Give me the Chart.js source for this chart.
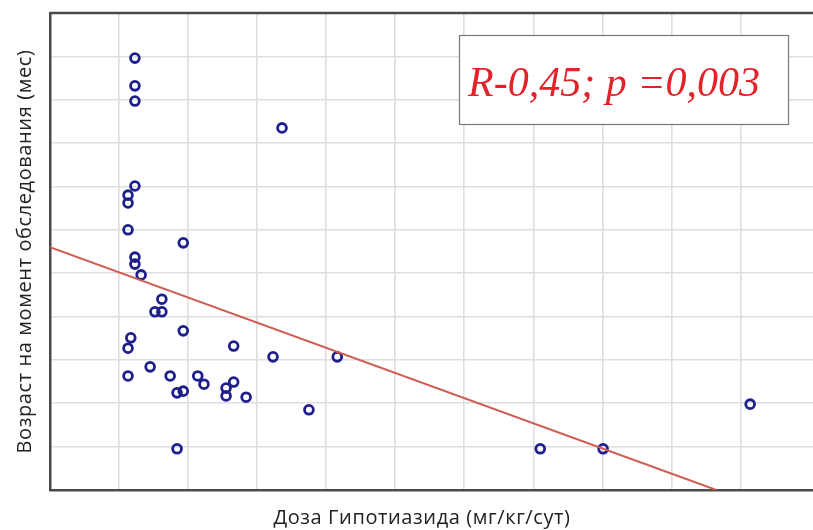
<!DOCTYPE html>
<html>
<head>
<meta charset="utf-8">
<script src="https://cdn.jsdelivr.net/npm/chart.js@4/dist/chart.umd.min.js"></script>
<style>
  html, body { margin: 0; padding: 0; background: #ffffff; }
  #wrap { width: 813px; height: 530px; position: relative; }
</style>
</head>
<body>
<div id="wrap"><canvas id="c" width="813" height="530"></canvas></div>
<script>
// Dose of hydrochlorothiazide (grid units) and age at examination (grid units)
const doseX = [1.23, 1.23, 1.23, 3.36, 1.23, 1.13, 1.13, 1.13, 1.93, 1.23,
               1.23, 1.32, 1.62, 1.52, 1.62, 1.17, 1.13, 1.93, 2.66, 3.23,
               4.16, 1.13, 1.45, 1.74, 1.84, 1.93, 2.14, 2.23, 2.55, 2.55,
               2.66, 2.84, 3.75, 1.84, 7.10, 8.01, 10.14];
const ageY  = [9.96, 9.32, 8.97, 8.35, 7.01, 6.80, 6.62, 6.00, 5.70, 5.37,
               5.21, 4.96, 4.40, 4.11, 4.11, 3.51, 3.27, 3.67, 3.32, 3.07,
               3.07, 2.63, 2.84, 2.63, 2.24, 2.28, 2.63, 2.44, 2.35, 2.17,
               2.49, 2.14, 1.85, 0.95, 0.95, 0.95, 1.98];

// Linear fit: end points of the regression line
const fitX = [0, 9.65];
const fitY = [5.60, 0];

const statText = 'R-0,45; p =0,003';
const xTitle = 'Доза Гипотиазида (мг/кг/сут)';
const yTitle = 'Возраст на момент обследования (мес)';

const points = doseX.map((x, i) => ({ x: x, y: ageY[i] }));
const fitLine = fitX.map((x, i) => ({ x: x, y: fitY[i] }));

const labelFont = '20px "Open Sans", sans-serif';

const frameAndBox = {
  id: 'frameAndBox',
  afterDraw(chart) {
    const ctx = chart.ctx;
    const a = chart.chartArea;
    ctx.save();
    // top frame line
    ctx.strokeStyle = '#4a4a4a';
    ctx.lineWidth = 2.5;
    ctx.beginPath();
    ctx.moveTo(a.left, a.top);
    ctx.lineTo(a.right, a.top);
    ctx.stroke();

    // axis titles
    ctx.fillStyle = '#222222';
    ctx.font = labelFont;
    ctx.letterSpacing = '0.6px';
    ctx.textAlign = 'center';
    ctx.textBaseline = 'alphabetic';
    ctx.fillText(xTitle, a.left + 372, 524);
    ctx.save();
    ctx.translate(31, (a.top + a.bottom) / 2);
    ctx.rotate(-Math.PI / 2);
    ctx.fillText(yTitle, 0, 0);
    ctx.restore();
    ctx.letterSpacing = '0px';

    // statistics box
    const bx = a.left + 409, by = a.top + 22, bw = 329, bh = 89;
    ctx.fillStyle = '#ffffff';
    ctx.fillRect(bx, by, bw, bh);
    ctx.strokeStyle = '#7a7a7a';
    ctx.lineWidth = 1.2;
    ctx.strokeRect(bx + 0.5, by + 0.5, bw, bh);
    ctx.fillStyle = '#e0242a';
    ctx.font = 'italic 42px "Liberation Serif", "Times New Roman", serif';
    ctx.textAlign = 'left';
    ctx.fillText(statText, bx + 9, by + 61);
    ctx.restore();
  }
};

new Chart(document.getElementById('c'), {
  type: 'scatter',
  data: {
    datasets: [
      {
        type: 'line',
        data: fitLine,
        borderColor: 'rgb(208, 92, 84)',
        borderWidth: 2,
        pointRadius: 0,
        fill: false,
        order: 0
      },
      {
        data: points,
        pointStyle: 'circle',
        pointRadius: 4.4,
        pointBorderWidth: 2.8,
        borderColor: 'rgb(30, 30, 140)',
        backgroundColor: 'rgba(255,255,255,0)',
        order: 1
      }
    ]
  },
  options: {
    responsive: false,
    animation: false,
    plugins: { legend: { display: false }, tooltip: { enabled: false } },
    layout: { autoPadding: false, padding: { top: 13, right: 0, bottom: 0, left: 0 } },
    scales: {
      x: {
        type: 'linear',
        min: 0,
        max: 11.05,
        ticks: { display: false, stepSize: 1 },
        afterBuildTicks: s => { s.ticks = s.ticks.filter(t => Number.isInteger(t.value)); },
        grid: { color: '#dedede', lineWidth: 1.6, drawTicks: false },
        border: { display: true, color: '#4a4a4a', width: 2.5 },
        title: { display: false },
        afterFit: s => { s.height = 40; }
      },
      y: {
        type: 'linear',
        min: 0,
        max: 11,
        ticks: { display: false, stepSize: 1 },
        grid: { color: '#dedede', lineWidth: 1.6, drawTicks: false },
        border: { display: true, color: '#4a4a4a', width: 2.5 },
        title: { display: false },
        afterFit: s => { s.width = 50; }
      }
    }
  },
  plugins: [frameAndBox]
});
</script>
</body>
</html>
